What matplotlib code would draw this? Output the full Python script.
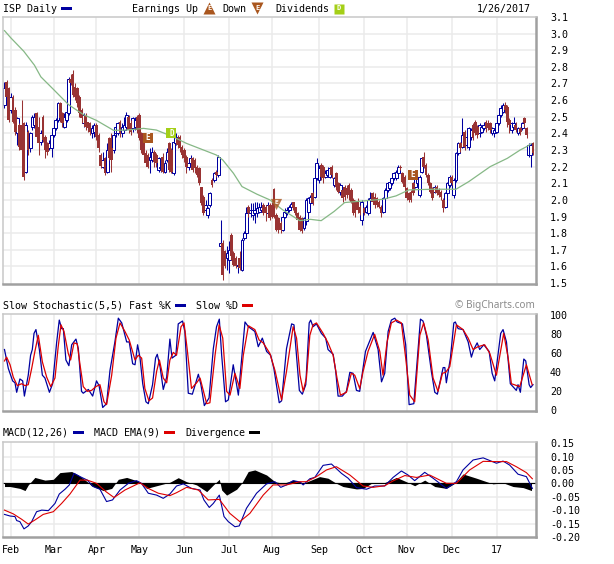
#!/usr/bin/env python3
"""ISP daily candles with slow stochastic and MACD panels"""

import matplotlib
matplotlib.use('Agg')
import matplotlib.pyplot as plt
import numpy as np
from matplotlib.lines import Line2D
from matplotlib.patches import Rectangle

W, H = 614, 564
plt.rcParams['font.family'] = ['DejaVu Sans Mono']

# Price candles, one per trading day
opens = [
    2.57, 2.71, 2.67, 2.54, 2.62, 2.54, 2.40, 2.45, 2.45, 2.46,
    2.17, 2.41, 2.31, 2.44, 2.45, 2.52, 2.44, 2.35, 2.50, 2.38,
    2.34, 2.31, 2.31, 2.39, 2.43, 2.48, 2.58, 2.52, 2.44, 2.48,
    2.52, 2.73, 2.76, 2.68, 2.67, 2.62, 2.54, 2.46, 2.51, 2.47,
    2.46, 2.40, 2.41, 2.45, 2.39, 2.27, 2.20, 2.25, 2.17, 2.37,
    2.31, 2.30, 2.40, 2.40, 2.47, 2.40, 2.42, 2.44, 2.50, 2.46,
    2.43, 2.44, 2.50, 2.51, 2.40, 2.37, 2.28, 2.27, 2.24, 2.24,
    2.29, 2.27, 2.18, 2.19, 2.26, 2.17, 2.24, 2.34, 2.30, 2.16,
    2.34, 2.37, 2.38, 2.32, 2.30, 2.26, 2.20, 2.22, 2.25, 2.24,
    2.20, 2.19, 2.08, 2.02, 1.94, 1.91, 1.97, 2.12, 2.12, 2.17,
    2.15, 1.72, 1.74, 1.69, 1.65, 1.64, 1.79, 1.68, 1.65, 1.60,
    1.65, 1.58, 1.77, 1.80, 1.96, 1.92, 1.91, 1.92, 1.92, 1.93,
    1.94, 1.97, 1.96, 1.92, 1.97, 1.97, 2.065, 1.91, 1.89, 1.86,
    1.82, 1.90, 1.92, 1.94, 1.955, 1.985, 1.955, 1.92, 1.90, 1.89,
    1.83, 1.87, 1.93, 1.98, 2.04, 2.02, 2.13, 2.12, 2.21, 2.20,
    2.14, 2.15, 2.14, 2.20, 2.09, 2.16, 2.10, 2.05, 2.06, 2.08,
    2.07, 2.09, 2.06, 2.00, 1.99, 1.99, 1.96, 1.88, 1.95, 1.93,
    1.92, 2.00, 2.04, 2.02, 2.01, 1.99, 1.96, 1.93, 2.01, 2.06,
    2.07, 2.10, 2.13, 2.13, 2.16, 2.20, 2.16, 2.14, 2.07, 2.04,
    2.05, 2.10, 2.08, 2.10, 2.03, 2.17, 2.26, 2.21, 2.15, 2.10,
    2.07, 2.05, 2.08, 2.06, 2.05, 2.00, 1.96, 2.04, 2.09, 2.14,
    2.03, 2.12, 2.28, 2.34, 2.32, 2.41, 2.33, 2.32, 2.38, 2.45,
    2.47, 2.44, 2.40, 2.41, 2.43, 2.47, 2.46, 2.46, 2.40, 2.40,
    2.41, 2.46, 2.51, 2.53, 2.57, 2.56, 2.48, 2.42, 2.44, 2.45,
    2.40, 2.43, 2.43, 2.49, 2.43, 2.27, 2.27, 2.34,
]
closes = [
    2.67, 2.62, 2.48, 2.62, 2.47, 2.41, 2.49, 2.32, 2.30, 2.14,
    2.45, 2.30, 2.40, 2.50, 2.50, 2.38, 2.34, 2.40, 2.36, 2.30,
    2.29, 2.34, 2.39, 2.43, 2.48, 2.58, 2.49, 2.46, 2.50, 2.53,
    2.73, 2.70, 2.63, 2.62, 2.58, 2.52, 2.49, 2.51, 2.44, 2.43,
    2.41, 2.43, 2.45, 2.38, 2.31, 2.205, 2.24, 2.16, 2.30, 2.25,
    2.24, 2.39, 2.44, 2.46, 2.40, 2.44, 2.45, 2.51, 2.42, 2.41,
    2.49, 2.48, 2.42, 2.37, 2.30, 2.27, 2.22, 2.20, 2.26, 2.29,
    2.23, 2.22, 2.25, 2.20, 2.17, 2.22, 2.29, 2.18, 2.17, 2.35,
    2.38, 2.33, 2.31, 2.27, 2.25, 2.20, 2.22, 2.25, 2.18, 2.19,
    2.15, 2.10, 1.98, 1.92, 1.97, 1.95, 2.04, 2.09, 2.16, 2.15,
    2.26, 1.74, 1.55, 1.60, 1.68, 1.70, 1.66, 1.61, 1.60, 1.61,
    1.59, 1.76, 1.80, 1.92, 1.92, 1.94, 1.94, 1.94, 1.95, 1.96,
    1.96, 1.92, 1.92, 1.97, 1.89, 1.90, 1.90, 1.82, 1.82, 1.82,
    1.90, 1.93, 1.94, 1.955, 1.975, 1.95, 1.92, 1.88, 1.82, 1.81,
    1.89, 2.00, 2.01, 2.02, 1.98, 2.13, 2.22, 2.19, 2.14, 2.13,
    2.16, 2.18, 2.19, 2.15, 2.13, 2.08, 2.05, 2.09, 2.01, 2.02,
    2.03, 2.03, 1.99, 1.92, 1.94, 1.94, 1.92, 1.99, 1.92, 1.96,
    2.00, 2.01, 1.99, 1.97, 1.97, 1.96, 1.92, 2.01, 2.06, 2.10,
    2.11, 2.13, 2.16, 2.165, 2.20, 2.19, 2.11, 2.08, 2.01, 2.00,
    2.00, 2.04, 2.14, 2.14, 2.14, 2.25, 2.20, 2.15, 2.10, 2.05,
    2.01, 2.08, 2.04, 2.03, 2.02, 1.95, 2.04, 2.10, 2.14, 2.10,
    2.12, 2.28, 2.34, 2.31, 2.39, 2.32, 2.38, 2.43, 2.42, 2.37,
    2.40, 2.39, 2.45, 2.44, 2.45, 2.43, 2.43, 2.42, 2.43, 2.42,
    2.46, 2.51, 2.55, 2.57, 2.54, 2.47, 2.45, 2.46, 2.46, 2.42,
    2.43, 2.41, 2.46, 2.46, 2.39, 2.33, 2.33, 2.28,
]
highs = [
    2.71, 2.72, 2.68, 2.64, 2.63, 2.56, 2.50, 2.46, 2.60, 2.47,
    2.47, 2.42, 2.41, 2.51, 2.52, 2.53, 2.50, 2.42, 2.51, 2.39,
    2.35, 2.36, 2.40, 2.45, 2.49, 2.59, 2.59, 2.53, 2.52, 2.55,
    2.74, 2.76, 2.78, 2.70, 2.68, 2.63, 2.55, 2.52, 2.52, 2.47,
    2.47, 2.45, 2.46, 2.46, 2.40, 2.28, 2.29, 2.26, 2.34, 2.38,
    2.40, 2.43, 2.46, 2.47, 2.48, 2.46, 2.50, 2.53, 2.51, 2.48,
    2.50, 2.50, 2.51, 2.52, 2.41, 2.38, 2.30, 2.28, 2.31, 2.32,
    2.30, 2.28, 2.26, 2.23, 2.28, 2.24, 2.31, 2.35, 2.31, 2.37,
    2.40, 2.39, 2.39, 2.33, 2.31, 2.27, 2.23, 2.27, 2.26, 2.25,
    2.21, 2.20, 2.08, 2.03, 2.00, 1.96, 2.05, 2.13, 2.17, 2.18,
    2.27, 1.88, 1.76, 1.70, 1.72, 1.75, 1.80, 1.69, 1.66, 1.62,
    1.69, 1.77, 1.81, 1.96, 1.97, 1.98, 1.98, 1.99, 1.99, 1.98,
    1.99, 1.98, 1.97, 1.99, 1.98, 2.00, 2.07, 1.92, 1.90, 1.87,
    1.91, 1.95, 1.96, 1.97, 1.99, 1.99, 1.96, 1.93, 1.91, 1.90,
    1.90, 2.01, 2.02, 2.03, 2.05, 2.14, 2.25, 2.21, 2.22, 2.21,
    2.18, 2.20, 2.20, 2.21, 2.14, 2.17, 2.11, 2.10, 2.07, 2.09,
    2.09, 2.10, 2.07, 2.01, 2.00, 2.01, 1.97, 2.00, 1.96, 1.97,
    2.01, 2.05, 2.05, 2.04, 2.02, 2.00, 1.97, 2.02, 2.07, 2.11,
    2.12, 2.14, 2.17, 2.18, 2.21, 2.21, 2.17, 2.15, 2.08, 2.05,
    2.06, 2.11, 2.15, 2.15, 2.15, 2.26, 2.29, 2.22, 2.16, 2.11,
    2.08, 2.09, 2.09, 2.07, 2.06, 2.01, 2.05, 2.11, 2.15, 2.15,
    2.13, 2.29, 2.35, 2.35, 2.49, 2.42, 2.39, 2.44, 2.43, 2.46,
    2.48, 2.45, 2.46, 2.45, 2.47, 2.48, 2.48, 2.47, 2.44, 2.43,
    2.47, 2.52, 2.57, 2.58, 2.59, 2.57, 2.49, 2.47, 2.50, 2.47,
    2.44, 2.44, 2.47, 2.50, 2.44, 2.34, 2.34, 2.35,
]
lows = [
    2.55, 2.60, 2.47, 2.52, 2.46, 2.39, 2.33, 2.30, 2.28, 2.12,
    2.16, 2.27, 2.29, 2.42, 2.43, 2.37, 2.27, 2.33, 2.35, 2.25,
    2.27, 2.30, 2.26, 2.38, 2.42, 2.47, 2.47, 2.44, 2.43, 2.47,
    2.51, 2.69, 2.62, 2.60, 2.56, 2.50, 2.46, 2.44, 2.42, 2.41,
    2.39, 2.37, 2.38, 2.36, 2.29, 2.19, 2.19, 2.15, 2.16, 2.24,
    2.165, 2.28, 2.38, 2.39, 2.38, 2.38, 2.41, 2.43, 2.40, 2.39,
    2.41, 2.42, 2.40, 2.36, 2.28, 2.25, 2.21, 2.19, 2.16, 2.23,
    2.20, 2.20, 2.17, 2.17, 2.16, 2.16, 2.23, 2.17, 2.16, 2.15,
    2.33, 2.31, 2.29, 2.25, 2.23, 2.16, 2.18, 2.20, 2.17, 2.16,
    2.14, 2.09, 1.97, 1.91, 1.93, 1.89, 1.96, 2.08, 2.11, 2.14,
    2.14, 1.63, 1.52, 1.59, 1.58, 1.56, 1.64, 1.60, 1.59, 1.56,
    1.58, 1.57, 1.76, 1.79, 1.90, 1.90, 1.88, 1.86, 1.90, 1.92,
    1.93, 1.91, 1.87, 1.91, 1.88, 1.89, 1.89, 1.81, 1.80, 1.80,
    1.81, 1.89, 1.91, 1.93, 1.95, 1.94, 1.91, 1.855, 1.81, 1.80,
    1.82, 1.85, 1.91, 1.97, 1.97, 2.01, 2.12, 2.10, 2.12, 2.10,
    2.13, 2.14, 2.13, 2.13, 2.08, 2.06, 2.04, 2.03, 1.99, 2.00,
    2.01, 2.00, 1.98, 1.91, 1.90, 1.92, 1.91, 1.85, 1.91, 1.92,
    1.91, 1.99, 1.98, 1.95, 1.96, 1.95, 1.90, 1.92, 2.00, 2.05,
    2.06, 2.09, 2.12, 2.12, 2.15, 2.18, 2.10, 2.07, 2.00, 1.99,
    1.99, 2.03, 2.07, 2.09, 2.02, 2.16, 2.19, 2.14, 2.09, 2.04,
    2.00, 2.04, 2.03, 2.02, 2.00, 1.93, 1.95, 2.03, 2.08, 2.09,
    2.01, 2.11, 2.27, 2.29, 2.31, 2.30, 2.31, 2.30, 2.36, 2.36,
    2.39, 2.37, 2.38, 2.40, 2.42, 2.41, 2.42, 2.40, 2.39, 2.38,
    2.40, 2.45, 2.50, 2.52, 2.52, 2.44, 2.40, 2.40, 2.43, 2.41,
    2.39, 2.39, 2.42, 2.44, 2.37, 2.26, 2.20, 2.27,
]

# Moving average read at the bends
ma_idx = [0, 3, 9, 14, 17, 23, 30, 37, 43, 51, 57, 65, 71, 79, 85, 92, 99, 102, 107, 111,
          118, 124, 130, 138, 143, 148, 154, 159, 168, 177, 183, 189, 200, 211, 217, 227, 235, 241, 244, 246]
ma_vals = [3.018, 2.974, 2.894, 2.81, 2.74, 2.663, 2.572, 2.512, 2.478, 2.418, 2.42, 2.43, 2.42, 2.378,
           2.34, 2.305, 2.27, 2.24, 2.16, 2.08, 2.034, 2.0, 1.94, 1.875, 1.883, 1.875, 1.93, 1.984,
           1.994, 2.004, 2.024, 2.06, 2.064, 2.064, 2.11, 2.20, 2.25, 2.30, 2.32, 2.337]

# Events on the price panel
earn_idx = [67, 191]
earn_price = [2.373, 2.15]
earn_down_idx = [127]
earn_down_price = [1.976]
div_idx = [78]
div_price = [2.40]

# Slow stochastic
k_idx = [0, 1.8, 3.8, 4.9, 5.7, 7.2, 8.5, 9.3, 11.1, 12.2, 13, 13.8, 14.7, 16.3, 17.7, 18.9, 21, 22.5, 24.4, 25.6,
         26.7, 27.5, 28.7, 30.1, 31.4, 33.4, 34.5, 36, 36.8, 39.2, 41.2, 43, 44.2, 45.9, 47.7, 49.3, 51.6, 53.2,
         54.8, 57.1, 58.3, 59.9, 61, 62.2, 63.3, 64.6, 66.1, 67.2, 69.2, 70.6, 71.4, 72.7, 74.2, 75.8, 77.3, 78.3,
         80.1, 81.2, 83.2, 84.3, 85.9, 87.8, 90.6, 91.8, 93.4, 95.6, 97.6, 99.1, 100.4, 101.5, 103.3, 104.6, 106.9,
         109.3, 112.4, 114, 117, 118.6, 120.5, 122.5, 124.4, 125.9, 128.4, 129.5, 131.8, 134.2, 135.3, 137.8,
         139.2, 140.8, 142.4, 143.1, 144.2, 145.8, 148.1, 150.1, 151.2, 153.6, 154.8, 155.9, 157.9, 159.8, 161.4,
         162.9, 164.5, 166, 168.7, 172.3, 174.6, 176.2, 177.7, 179.3, 180.8, 182.4, 183.5, 186, 187.5, 189.1,
         191.3, 194.4, 195.6, 197.2, 199.5, 201.1, 202.3, 205, 205.8, 206.5, 208.4, 210, 210.7, 212, 214.3, 216.7,
         218.2, 219.3, 220.9, 222.1, 224, 226.5, 227.9, 229.1, 231.9, 233, 234.6, 236.4, 239.2, 240, 241.1, 242.7,
         243.6, 245.2, 245.9, 247]
k_vals = [64, 44, 31, 29, 19, 33, 31, 15, 37, 58, 64, 81, 85, 64, 37, 34, 19, 28, 72, 95,
          86, 86, 53, 47, 69, 75, 65, 20, 18, 22, 15, 31, 26, 3, 7, 42, 72, 97,
          92, 72, 72, 49, 48, 69, 56, 28, 9, 7, 27, 55, 59, 46, 22, 35, 75, 55,
          58, 91, 94, 83, 18, 17, 38, 27, 5, 13, 65, 88, 96, 58, 9, 11, 48,
          16, 93, 88, 83, 67, 76, 62, 58, 44, 8, 10, 65, 91, 90, 21,
          17, 27, 92, 95, 88, 91, 81, 76, 64, 59, 41, 15, 15, 20, 40,
          39, 21, 20, 62, 82, 64, 30, 39, 83, 95, 97, 93, 91, 69, 6,
          7, 96, 94, 79, 41, 19, 17, 45, 45, 29, 55, 92, 93, 86, 85, 72,
          56, 64, 71, 64, 69, 62, 39, 31, 81, 85, 72, 28, 21, 27, 19, 54,
          52, 27, 24, 27]
d_idx = [0, 1, 2.6, 4.1, 6, 8, 9.6, 11.1, 12.7, 14.2, 15.8, 17.7, 19.7, 21.6, 23.6, 25.1, 26.4, 27.8, 29.8, 30.9,
         32.5, 34, 35.3, 36.8, 38.7, 40.7, 42.7, 44.6, 46.5, 47.7, 50.1, 52.1, 54, 56.3, 58.3, 61, 62.5, 64.1, 65.6,
         67.5, 69.2, 71.1, 72.4, 74.2, 75.8, 77.3, 78.9, 80.4, 82.5, 83.9, 85.4, 87.4, 89.8, 91.4, 93, 94.5, 96,
         98.4, 100.3, 102, 103.8, 105.4, 107.7, 110, 111.6, 114, 117, 119, 120.9, 124, 126.4, 129.5, 131.8, 134.9,
         136.5, 138.1, 139.6, 141.1, 142.7, 144.2, 145.8, 148.9, 151.2, 153.6, 155.4, 157, 159.8, 162.1, 163.7, 166,
         167.6, 169.9, 173, 175.4, 176.9, 178.8, 180.8, 183.2, 185.5, 187.5, 189.4, 191.7, 194.1, 195.9, 198, 200.3,
         202.6, 204.7, 206.2, 208.1, 211.2, 214.3, 216.7, 219, 221.3, 224.4, 226.8, 229.9, 233.3, 235.4, 236.9,
         240.8, 243.9, 246.6]
d_vals = [52, 56, 48, 35, 26, 28, 26, 27, 44, 62, 79, 51, 35, 25, 34, 67, 90, 83, 60, 53,
          71, 70, 48, 25, 20, 21, 25, 27, 9, 6, 37, 76, 92, 83, 74, 53, 58, 55, 23,
          10, 13, 41, 53, 34, 29, 53, 61, 58, 88, 92, 64, 23, 29, 34, 20, 7, 8,
          58, 90, 76, 20, 16, 39, 23, 58, 89, 85, 74, 71, 60, 42, 11, 41, 88,
          76, 37, 20, 34, 79, 90, 92, 81, 71, 58, 34, 16, 19, 39, 37, 23,
          41, 62, 80, 62, 37, 72, 92, 95, 92, 55, 16, 9, 79, 92, 74, 34,
          20, 39, 40, 46, 90, 85, 76, 64, 67, 69, 60, 37, 81, 55, 28,
          25, 48, 27]

# MACD
macd_idx = [0, 2.6, 4.9, 5.7, 7.2, 9.1, 11.1, 12.7, 15, 17.4, 20.5, 23.6, 25.6, 28.3, 30.3, 32.5, 35.3, 38.7, 41.5,
            44.6, 47.7, 50.5, 54, 57.9, 61.7, 64, 67.2, 71.1, 74.2, 77.3, 80.4, 83.6, 87.4, 91.4, 93.2, 95.7, 97.6,
            100.4, 102.6, 104.6, 107.7, 109.7, 113.1, 117.8, 122.5, 126.4, 129.1, 131.8, 134.9, 138.1, 139.6, 142.7,
            145, 148.9, 152.8, 157.5, 160.6, 164.5, 169.2, 173, 177.7, 181.6, 185.5, 188.6, 191.7, 196.4, 200.3, 206.5,
            211.2, 214.3, 219, 223.7, 229.9, 233, 236.1, 240, 243.9, 246.7]
macd_vals = [-0.116, -0.122, -0.124, -0.139, -0.143, -0.170, -0.159, -0.143, -0.106, -0.100, -0.102, -0.075, -0.040,
             -0.022, -0.006, 0.037, 0.025, 0.012, -0.012, -0.022, -0.068, -0.062, -0.025, 0, 0.010, 0, -0.037, -0.044,
             -0.056, -0.040, -0.010, -0.002, -0.019, -0.025, -0.062, -0.090, -0.075, -0.044, -0.124, -0.143, -0.162,
             -0.159, -0.093, -0.037, -0.002, 0.006, -0.015, -0.006, 0.010, 0.005, -0.006, 0.017, 0.022, 0.067, 0.072,
             0.037, 0.019, -0.016, -0.022, -0.010, -0.010, 0.022, 0.046, 0.031, 0.010, 0.041, 0.019, -0.019, 0.006,
             0.050, 0.087, 0.095, 0.075, 0.083, 0.068, 0.034, 0.025, -0.019]
ema_idx = [0, 4.1, 8, 11.1, 14.2, 18.1, 22.8, 26.7, 30.6, 35.3, 38.7, 43, 47.4, 51.2, 56.3, 63.3, 67.2, 71.9, 77.3,
           80.4, 85.1, 90.6, 95.2, 100.4, 105.3, 110, 114.7, 120.9, 125.5, 131.8, 138.1, 141.1, 145.8, 150.5, 155.1,
           161.4, 167.6, 172.3, 177.7, 181.6, 187.1, 192.5, 198.7, 206.5, 211.2, 217.4, 223.7, 229.9, 234.6, 239.2,
           243.9, 246.7]
ema_vals = [-0.100, -0.114, -0.134, -0.152, -0.137, -0.116, -0.106, -0.075, -0.040, 0.012, 0.012, 0, -0.031, -0.053,
            -0.025, 0.002, -0.019, -0.037, -0.046, -0.035, -0.015, -0.025, -0.062, -0.060, -0.112, -0.143, -0.112,
            -0.044, -0.006, -0.006, 0.006, 0.006, 0.025, 0.050, 0.062, 0.031, -0.010, -0.015, -0.009, 0.009, 0.029,
            0.022, 0.031, 0, 0, 0.050, 0.082, 0.081, 0.081, 0.062, 0.040, 0.017]
div_x = [0, 2.6, 7.2, 9.6, 11.1, 14.2, 18.9, 22.8, 25.9, 31.4, 34.5, 38.7, 40.7, 46.2, 50.1, 53.2, 57.1, 63.3, 66.4,
         71.1, 77.3, 81.2, 85.1, 89.8, 94.5, 97.6, 100.4, 101.5, 103.8, 108.5, 110.8, 113.9, 117, 122.5, 126.4, 130.3,
         134.9, 138.1, 139.6, 147.3, 151.2, 155.1, 158.2, 164.5, 167.6, 171.5, 176.9, 183.2, 187.8, 191.7, 196.4,
         201.1, 206.5, 210.4, 214.3, 220.6, 228.3, 233, 237.7, 242.4, 246.3]
div_vals = [-0.012, -0.012, -0.019, -0.027, -0.006, 0.022, 0.012, 0.015, 0.040, 0.044, 0.031, 0.006, -0.010, -0.027,
            -0.019, 0.015, 0.022, 0.006, -0.019, -0.009, 0.004, 0.021, 0.006, -0.006, -0.031, -0.006, 0.015, -0.025,
            -0.044, -0.022, 0, 0.044, 0.050, 0.031, 0.006, 0, 0.012, 0.006, 0, 0.025, 0.019, 0, -0.012, -0.021, -0.019,
            0, 0, 0.022, 0.006, -0.009, 0.012, -0.012, -0.019, 0, 0.035, 0.019, -0.002, 0.002, -0.012, -0.016, -0.027]

# Axes labels
month_idx = [3, 23, 43, 63, 84, 105, 125, 147, 168, 188, 209, 230]
month_labels = ['Feb', 'Mar', 'Apr', 'May', 'Jun', 'Jul', 'Aug', 'Sep', 'Oct', 'Nov', 'Dec', '17']
price_ticks = [3.1, 3.0, 2.9, 2.8, 2.7, 2.6, 2.5, 2.4, 2.3, 2.2, 2.1, 2.0, 1.9, 1.8, 1.7, 1.6, 1.5]
stoch_ticks = [100, 80, 60, 40, 20, 0]
macd_ticks = [0.15, 0.10, 0.05, 0.00, -0.05, -0.10, -0.15, -0.20]

BLUE = '#0000a0'
BROWN = '#993333'
RED = '#dd0000'
GREEN = '#86b886'
EARN = '#a9561e'
DIV = '#a4cf17'
GRID = '#ebebeb'
FS = 7.2


def px(x, y):
    """Posicion en pixeles de la imagen a fraccion de figura"""
    return x / W, 1 - y / H


def make_panel(fig, top, bottom, ylim, ticks, labels):
    ax = fig.add_axes([2.5 / W, 1 - bottom / H, 533.5 / W, (bottom - top) / H])
    ax.set_xlim(-0.93, 248.4)
    ax.set_ylim(*ylim)
    ax.set_xticks(month_idx)
    ax.set_xticklabels([])
    ax.set_yticks(ticks)
    ax.set_yticklabels(labels, fontsize=FS, ha='left')
    ax.yaxis.tick_right()
    ax.tick_params(length=0, pad=10)
    ax.grid(True, color=GRID, linewidth=1.1, zorder=0)
    ax.set_axisbelow(True)
    # las lineas extremas caen sobre el marco
    gl = ax.yaxis.get_gridlines()
    gl[0].set_visible(False)
    gl[-1].set_visible(False)
    for side in ['left', 'top']:
        ax.spines[side].set_color('#c8c8c8')
        ax.spines[side].set_linewidth(1.1)
    for side in ['right', 'bottom']:
        ax.spines[side].set_color('#a0a0a0')
        ax.spines[side].set_linewidth(1.8)
    return ax


def legend_text(fig, x, y, s):
    fx, fy = px(x, y)
    fig.text(fx, fy, s, fontsize=FS, ha='left', va='center', color='black')


def swatch(fig, x0, x1, y, color):
    fx, fy = px(x0, y + 1.4)
    fig.add_artist(Rectangle((fx, fy), (x1 - x0) / W, 2.8 / H, transform=fig.transFigure,
                             facecolor=color, edgecolor='none'))


def icon(fig, x, y, marker, color, letter):
    fx, fy = px(x, y)
    size = 8.5 if marker != 's' else 7.2
    fig.add_artist(Line2D([fx], [fy], marker=marker, markersize=size, color=color,
                          markeredgecolor='none', linestyle='none', transform=fig.transFigure))
    fig.text(fx, fy, letter, fontsize=5, color='white', ha='center', va='center', fontweight='bold')


fig = plt.figure(figsize=(W / 100, H / 100), dpi=100, facecolor='white')

# Panel de precios
ax1 = make_panel(fig, 16.5, 283.5, (1.497, 3.103), price_ticks, [f'{t:.1f}' for t in price_ticks])
x = np.arange(len(opens))
o, c, h, l = map(np.array, (opens, closes, highs, lows))
up = c >= o
ax1.vlines(x[up], l[up], h[up], color=BLUE, linewidth=0.75, zorder=2)
ax1.bar(x[up], (c - o)[up], bottom=o[up], width=1.35, facecolor='white', edgecolor=BLUE, linewidth=0.72, zorder=2)
ax1.vlines(x[~up], l[~up], h[~up], color=BROWN, linewidth=0.75, zorder=3)
ax1.bar(x[~up], (o - c)[~up], bottom=c[~up], width=1.3, color=BROWN, linewidth=0, zorder=3)
ax1.plot(ma_idx, ma_vals, color=GREEN, linewidth=0.9, zorder=4)

ax1.scatter(earn_idx, earn_price, marker='s', s=50, color=EARN, linewidths=0, zorder=5)
for i, p in zip(earn_idx, earn_price):
    ax1.text(i, p, 'E', fontsize=5.5, color='white', ha='center', va='center', fontweight='bold', zorder=6)
ax1.scatter(div_idx, div_price, marker='s', s=50, color=DIV, linewidths=0, zorder=5)
for i, p in zip(div_idx, div_price):
    ax1.text(i, p, 'D', fontsize=5.5, color='white', ha='center', va='center', fontweight='bold', zorder=6)
ax1.scatter(earn_down_idx, earn_down_price, marker='v', s=65, color=EARN, alpha=0.8, linewidths=0, zorder=5)
for i, p in zip(earn_down_idx, earn_down_price):
    ax1.text(i, p + 0.007, 'E', fontsize=4.5, color='white', ha='center', va='center', fontweight='bold', zorder=6)

# Panel estocastico
ax2 = make_panel(fig, 314, 411, (-0.7, 101.4), stoch_ticks, [str(t) for t in stoch_ticks])
ax2.plot(k_idx, k_vals, color=BLUE, linewidth=0.9, zorder=3)
ax2.plot(d_idx, d_vals, color=RED, linewidth=0.9, zorder=4)

# Panel MACD
ax3 = make_panel(fig, 441.7, 537, (-0.2003, 0.1553), macd_ticks, [f'{t:.2f}' for t in macd_ticks])
ax3.fill_between(div_x, 0, div_vals, color='black', linewidth=0, zorder=2)
ax3.axhline(0, color='black', linewidth=0.8, zorder=2)
ax3.plot(macd_idx, macd_vals, color=BLUE, linewidth=0.8, zorder=3)
ax3.plot(ema_idx, ema_vals, color=RED, linewidth=0.8, zorder=4)
ax3.set_xticklabels(month_labels, fontsize=FS)
ax3.tick_params(axis='x', pad=6)

# Leyendas
legend_text(fig, 3, 9, 'ISP Daily')
swatch(fig, 61, 72, 8.5, BLUE)
legend_text(fig, 131.5, 9, 'Earnings Up')
icon(fig, 209, 8, '^', EARN, 'E')
legend_text(fig, 222, 9, 'Down')
icon(fig, 257, 8, 'v', EARN, 'E')
legend_text(fig, 275, 9, 'Dividends')
icon(fig, 339, 8.5, 's', DIV, 'D')
legend_text(fig, 476.5, 9, '1/26/2017')

legend_text(fig, 3, 306, 'Slow Stochastic(5,5) Fast %K')
swatch(fig, 175, 186, 305.5, BLUE)
legend_text(fig, 196, 306, 'Slow %D')
swatch(fig, 242, 253, 305.5, RED)

legend_text(fig, 3, 432.5, 'MACD(12,26)')
swatch(fig, 73, 84, 432.5, BLUE)
legend_text(fig, 94, 432.5, 'MACD EMA(9)')
swatch(fig, 164, 175, 432.5, RED)
legend_text(fig, 185, 432.5, 'Divergence')
swatch(fig, 249, 260, 432.5, 'black')

fx, fy = px(534.5, 305.5)
fig.text(fx, fy, '\u00a9 BigCharts.com', fontsize=7.2, color='#8c8c8c', ha='right', va='center',
         family='Noto Sans')

fig.savefig('out.png', dpi=100)
